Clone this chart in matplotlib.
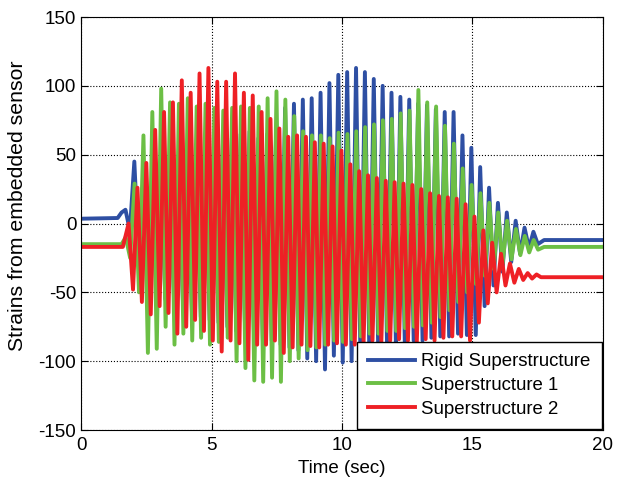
import matplotlib
matplotlib.use("Agg")
import matplotlib.pyplot as plt

plt.rcParams["font.family"] = ["Liberation Sans Narrow", "Liberation Sans", "DejaVu Sans"]
plt.rcParams["font.size"] = 13
plt.rcParams["axes.unicode_minus"] = False

period = 0.34

# Rigid superstructure: values at each peak / following trough of a cycle
rigid_t0 = 1.70
rigid_peaks = [10, 45, 30, 35, 40, 45, 45, 50, 55, 55, 60, 60, 62, 65, 67, 62,
               65, 70, 84, 87, 90, 91, 95, 102, 108, 110, 113, 110, 105, 100,
               95, 92, 90, 87, 86, 83, 81, 81, 64, 55, 41, 26, 15, 8, 2, -3, -6]
rigid_troughs = [-5, -25, -40, -50, -55, -60, -60, -65, -68, -70, -72, -75,
                 -78, -80, -82, -85, -85, -88, -90, -92, -98, -100, -106, -96,
                 -101, -100, -98, -95, -92, -90, -90, -88, -85, -85, -83, -82,
                 -82, -80, -81, -81, -60, -45, -35, -28, -22, -18, -15]
rigid_lead_t = [0.0, 1.40, 1.55]
rigid_lead_v = [3.5, 4.0, 8.0]
rigid_tail_t = [17.75, 20.0]
rigid_tail_v = [-12, -12]

# Superstructure 1
sup1_t0 = 1.71
sup1_peaks = [-10, 29, 64, 81, 98, 88, 87, 91, 85, 87, 84, 82, 84, 85, 84, 85,
              91, 96, 90, 78, 67, 64, 64, 62, 66, 65, 67, 70, 72, 75, 76, 80,
              82, 97, 88, 85, 71, 58, 40, 28, 22, 15, 8, 2, -4, -9, -12]
sup1_troughs = [-25, -50, -94, -91, -75, -88, -80, -85, -83, -88, -86, -83,
                -100, -105, -114, -115, -112, -115, -100, -98, -92, -90, -88,
                -85, -86, -84, -82, -80, -80, -78, -78, -76, -75, -74, -72,
                -68, -63, -57, -50, -44, -38, -33, -29, -26, -23, -21, -19]
sup1_lead_t = [0.0, 1.55]
sup1_lead_v = [-15, -15]
sup1_tail_t = [17.75, 20.0]
sup1_tail_v = [-17, -17]

# Superstructure 2
sup2_t0 = 1.82
sup2_peaks = [0, 26, 44, 68, 81, 88, 104, 95, 109, 113, 103, 103, 109, 95, 93,
              81, 76, 69, 63, 64, 63, 59, 58, 56, 53, 43, 38, 35, 33, 31, 30,
              29, 28, 25, 22, 20, 19, 18, 14, 5, -5, -14, -22, -29, -33, -36,
              -37]
sup2_troughs = [-48, -57, -66, -60, -65, -80, -75, -70, -78, -85, -93, -85,
                -87, -99, -88, -88, -85, -94, -90, -88, -89, -90, -88, -87,
                -88, -88, -86, -85, -86, -85, -84, -85, -86, -84, -85, -83,
                -82, -82, -85, -72, -58, -50, -45, -43, -41, -40, -39]
sup2_lead_t = [0.0, 1.60]
sup2_lead_v = [-17, -17]
sup2_tail_t = [17.75, 20.0]
sup2_tail_v = [-39, -39]


def build(lead_t, lead_v, t0, peaks, troughs, tail_t, tail_v):
    t = list(lead_t)
    v = list(lead_v)
    for k, (p, q) in enumerate(zip(peaks, troughs)):
        t += [t0 + k * period, t0 + k * period + period / 2]
        v += [p, q]
    return t + list(tail_t), v + list(tail_v)


fig = plt.figure(figsize=(6.24, 4.78), dpi=100)
ax = fig.add_axes([0.13, 0.1004, 0.836, 0.864])

lw = 2.8
t, v = build(rigid_lead_t, rigid_lead_v, rigid_t0, rigid_peaks, rigid_troughs,
             rigid_tail_t, rigid_tail_v)
ax.plot(t, v, color="#2E4FA3", lw=lw, label="Rigid Superstructure")
t, v = build(sup1_lead_t, sup1_lead_v, sup1_t0, sup1_peaks, sup1_troughs,
             sup1_tail_t, sup1_tail_v)
ax.plot(t, v, color="#6CBF45", lw=lw, label="Superstructure 1")
t, v = build(sup2_lead_t, sup2_lead_v, sup2_t0, sup2_peaks, sup2_troughs,
             sup2_tail_t, sup2_tail_v)
ax.plot(t, v, color="#EE2025", lw=lw, label="Superstructure 2")

ax.set_xlim(0, 20)
ax.set_ylim(-150, 150)
ax.set_xticks([0, 5, 10, 15, 20])
ax.set_yticks([-150, -100, -50, 0, 50, 100, 150])
ax.grid(True, color="black", linestyle=":", linewidth=0.8)
ax.tick_params(direction="in", top=True, right=True, length=5, labelsize=13.5)
ax.tick_params(axis="x", pad=5)
ax.set_xlabel("Time (sec)", labelpad=4, fontsize=13.5)
ax.set_ylabel("Strains from embedded sensor", fontsize=15.3,
              family=["Liberation Sans", "DejaVu Sans"])
ax.yaxis.set_label_coords(-0.104, 0.542)

leg = ax.legend(loc="lower right", fancybox=False, edgecolor="black",
                framealpha=1, borderaxespad=0.05, borderpad=0.6,
                handlelength=2.5, handletextpad=0.35, labelspacing=0.37,
                prop={"family": ["Liberation Sans", "DejaVu Sans"], "size": 13.4})
leg.get_frame().set_linewidth(1.0)

fig.savefig("out.png", dpi=100)
